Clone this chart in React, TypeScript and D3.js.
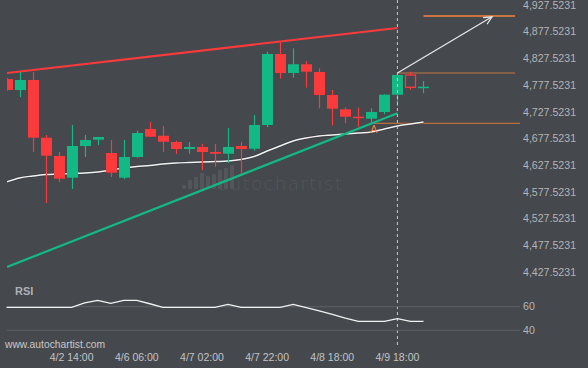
import React from "react";
import * as d3 from "d3";

// ---- data ----
const opens = [4788.9, 4768.4, 4787.1, 4679.0, 4644.8, 4604.1, 4663.5, 4675.3, 4650.4, 4604.1, 4642.9, 4695.3, 4682.7, 4671.0, 4657.8, 4661.6, 4652.2, 4649.0, 4663.5, 4658.4, 4702.8, 4835.8, 4800.2, 4816.5, 4802.0, 4759.0, 4732.2, 4718.3, 4714.6, 4727.1, 4759.5, 4796.4, 4774.5];
const highs = [4791.0, 4802.1, 4802.1, 4684.1, 4652.2, 4702.8, 4684.1, 4680.5, 4674.7, 4674.7, 4692.1, 4708.4, 4700.9, 4673.4, 4671.0, 4667.8, 4667.2, 4697.2, 4671.5, 4721.5, 4840.1, 4858.8, 4846.4, 4822.6, 4809.0, 4768.4, 4735.9, 4735.2, 4734.1, 4760.3, 4798.9, 4802.6, 4785.2];
const lows = [4767.0, 4755.2, 4652.2, 4556.7, 4596.1, 4582.9, 4642.9, 4665.3, 4605.4, 4601.7, 4641.6, 4680.3, 4652.2, 4648.5, 4649.0, 4618.5, 4624.7, 4631.6, 4611.0, 4654.7, 4698.5, 4789.5, 4791.4, 4772.6, 4734.1, 4702.2, 4706.0, 4699.6, 4706.0, 4722.8, 4738.4, 4768.4, 4762.2];
const closes = [4768.4, 4787.1, 4679.0, 4645.3, 4602.2, 4663.5, 4674.7, 4680.3, 4613.5, 4642.9, 4687.8, 4680.9, 4671.5, 4657.8, 4661.6, 4652.2, 4649.0, 4661.6, 4657.8, 4702.8, 4835.8, 4800.2, 4816.5, 4802.6, 4759.0, 4733.3, 4718.3, 4715.9, 4727.1, 4759.5, 4796.4, 4773.4, 4774.5];
const hollowIndex = 31;
const maValues = [4596.1, 4603.6, 4607.3, 4610.1, 4611.0, 4612.0, 4612.9, 4614.8, 4618.5, 4622.3, 4625.1, 4626.9, 4629.8, 4631.6, 4632.6, 4633.5, 4634.4, 4635.4, 4638.2, 4643.8, 4654.1, 4663.5, 4672.8, 4678.4, 4682.2, 4684.1, 4685.9, 4687.8, 4689.7, 4695.3, 4700.9, 4704.7, 4708.4];
const rsiValues = [59.5, 59.5, 59.5, 59.5, 59.5, 59.5, 63.2, 65.4, 62.9, 65.4, 65.4, 62.5, 59.5, 59.5, 59.5, 59.5, 59.5, 62.0, 59.5, 59.5, 59.5, 59.5, 62.0, 59.2, 56.4, 53.5, 50.4, 47.6, 47.6, 47.6, 49.8, 47.6, 47.6];
const priceTicks = d3.range(0, 11).map((k) => 4427.5231 + 50 * k);
const rsiTicks = [60, 40];
const timeLabels = ["4/2 14:00", "4/6 06:00", "4/7 02:00", "4/7 22:00", "4/8 18:00", "4/9 18:00"];
const timeLabelIndex = [5, 10, 15, 20, 25, 30];
// pattern lines [index, price]
const resistance = [[0, 4800.2], [30, 4884.5]];
const support = [[0, 4436.9], [30, 4724.7]];
const targetLevel = 4906.9;
const breakoutLevel = 4800.2;
const lowerLevel = 4706.0;
const arrowFrom = [30, 4800.2];
const arrowTo = [37.26, 4905.5];
const nowIndex = 30;
const markerIndex = 28;

const BG = "#45484d";
const GREEN = "#13b985";
const RED = "#fb3a3c";
const ORANGE = "#f4823f";
const FONT = "'Liberation Sans', Arial, sans-serif";

export default function App() {
  const x = d3.scaleLinear().domain([0, 39]).range([6.5, 514.7]);
  const y = d3.scaleLinear().domain([4427.5231, 4927.5231]).range([272, 5]);
  const yR = d3.scaleLinear().domain([40, 60]).range([330.3, 306.7]);
  const bw = 11;

  const maLine = d3.line<number>().x((_, i) => x(i)).y((d) => y(d)).curve(d3.curveMonotoneX)(maValues) || "";
  const rsiLine = d3.line<number>().x((_, i) => x(i)).y((d) => yR(d))(rsiValues) || "";

  const ax1 = x(arrowFrom[0]), ay1 = y(arrowFrom[1]);
  const ax2 = x(arrowTo[0]), ay2 = y(arrowTo[1]);
  const ang = Math.atan2(ay2 - ay1, ax2 - ax1);
  const hl = 9;
  const head = `M${ax2 - hl * Math.cos(ang - 0.45)},${ay2 - hl * Math.sin(ang - 0.45)}L${ax2},${ay2}L${ax2 - hl * Math.cos(ang + 0.45)},${ay2 - hl * Math.sin(ang + 0.45)}`;

  const logoBars = [4, 9, 12, 16, 13, 15, 19, 21, 24];

  return (
    <svg width={588} height={368} style={{ position: "absolute", left: 0, top: 0, background: BG }} fontFamily={FONT}>
      <defs>
        <clipPath id="plot">
          <rect x={7} y={0} width={513} height={280} />
        </clipPath>
      </defs>
      <rect x={0} y={0} width={588} height={368} fill={BG} />

      {/* watermark */}
      <g fill="#53565b">
        {logoBars.map((h, i) => (
          <rect key={i} x={182 + i * 6} y={189 - h} width={4} height={h} rx={1} />
        ))}
        <text x={217} y={190} fontSize={18.5} fill="#53565b" letterSpacing={1.2} fontFamily="'DejaVu Sans', sans-serif" fontWeight={300}>autochartist</text>
      </g>

      <g clipPath="url(#plot)">
        {/* horizontal levels */}
        <line x1={x(markerIndex)} x2={520} y1={y(lowerLevel)} y2={y(lowerLevel)} stroke={ORANGE} strokeWidth={1} opacity={0.85} />
        <line x1={x(nowIndex)} x2={515} y1={y(breakoutLevel)} y2={y(breakoutLevel)} stroke={ORANGE} strokeWidth={1} opacity={0.75} />
        <line x1={x(32)} x2={515} y1={y(targetLevel)} y2={y(targetLevel)} stroke={ORANGE} strokeWidth={1.5} />

        {/* MA */}
        <path d={maLine} fill="none" stroke="#2e3034" strokeWidth={3} opacity={0.5} />
        <path d={maLine} fill="none" stroke="#f2f2f2" strokeWidth={1.5} />

        {/* trend lines */}
        <line x1={x(resistance[0][0]) + 0.5} y1={y(resistance[0][1])} x2={x(resistance[1][0])} y2={y(resistance[1][1])} stroke={RED} strokeWidth={2.2} />
        <line x1={x(support[0][0]) + 0.5} y1={y(support[0][1])} x2={x(support[1][0])} y2={y(support[1][1])} stroke={GREEN} strokeWidth={2.2} />

        {/* candles */}
        {opens.map((o, i) => {
          const c = closes[i];
          const up = c >= o;
          const col = up ? GREEN : RED;
          const cx = Math.round(x(i)) + 0.5;
          const top = y(Math.max(o, c));
          const bot = y(Math.min(o, c));
          const hollow = i === hollowIndex;
          return (
            <g key={i}>
              <line x1={cx} x2={cx} y1={y(highs[i])} y2={y(lows[i])} stroke={col} strokeWidth={1.2} />
              {hollow ? (
                <rect x={cx - bw / 2 + 0.5} y={top} width={bw - 1} height={Math.max(1.5, bot - top)} fill={BG} stroke={col} strokeWidth={1.3} />
              ) : (
                <rect x={cx - bw / 2} y={top} width={bw} height={Math.max(1.5, bot - top)} fill={col} />
              )}
            </g>
          );
        })}

        {/* arrow */}
        <line x1={ax1} y1={ay1} x2={ax2} y2={ay2} stroke="#e6e6e6" strokeWidth={1.3} />
        <path d={head} fill="none" stroke="#e6e6e6" strokeWidth={1.3} />

        {/* marker */}
        <text x={x(markerIndex) + 2.5} y={y(lowerLevel) + 9.5} fontSize={10.5} fill={ORANGE} textAnchor="middle">A</text>
      </g>

      {/* now line */}
      <line x1={x(nowIndex)} x2={x(nowIndex)} y1={0} y2={348} stroke="#c9c9c9" strokeWidth={1} strokeDasharray="3,3" />

      {/* price axis */}
      {priceTicks.map((t) => (
        <text key={t} x={523} y={y(t)} dy="0.35em" fontSize={10.6} fill="#b3b5b8">
          {d3.format(",.4f")(t)}
        </text>
      ))}

      {/* RSI panel */}
      <text x={15} y={295} fontSize={11} fontWeight="bold" fill="#aeb1b6">RSI</text>
      {rsiTicks.map((t) => (
        <g key={t}>
          <line x1={7} x2={520} y1={yR(t)} y2={yR(t)} stroke="#5d6065" strokeWidth={1} />
          <text x={523} y={yR(t)} dy="0.35em" fontSize={10.6} fill="#b3b5b8">{t}</text>
        </g>
      ))}
      <path d={rsiLine} fill="none" stroke="#f2f2f2" strokeWidth={1.3} />

      {/* time axis */}
      {timeLabels.map((l, k) => (
        <text key={l} x={x(timeLabelIndex[k])} y={360.5} fontSize={10.5} fill="#c3c4c6" textAnchor="middle">{l}</text>
      ))}
      <text x={5} y={348} fontSize={10.3} fill="#c8c9cb">www.autochartist.com</text>
    </svg>
  );
}
